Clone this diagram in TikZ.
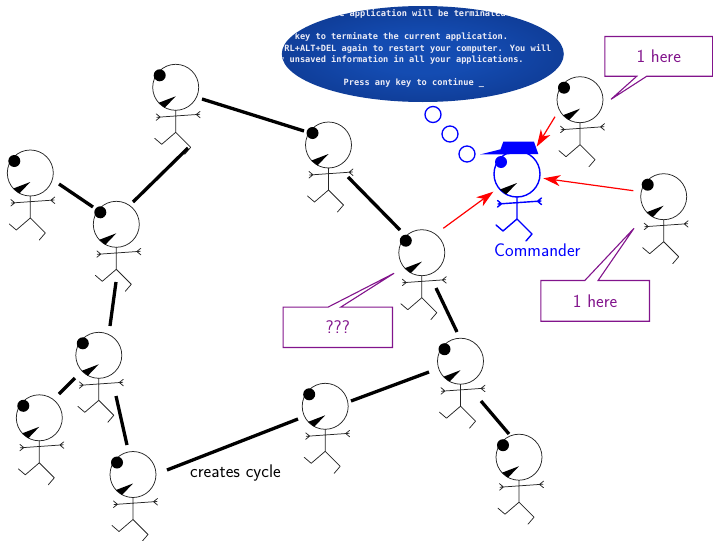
\documentclass[tikz,border=0pt]{standalone}
\usepackage{fontspec}
\usetikzlibrary{calc,arrows.meta}

\newfontfamily\bsodfont{DejaVu Sans Mono}

\definecolor{notepurple}{RGB}{130,20,140}
\definecolor{bsodinner}{RGB}{20,76,178}
\definecolor{bsodouter}{RGB}{8,38,112}
\definecolor{bsodtext}{RGB}{236,236,246}

\pgfdeclareradialshading{bsodglow}{\pgfpoint{0bp}{0bp}}{%
  color(0bp)=(bsodinner); color(10bp)=(bsodinner); color(50bp)=(bsodouter)}

% one stick figure, head centred on the origin (units: pt, y pointing down)
% #1 line colour, #2 line width, #3 eye colour
\newcommand\drawstickman[3]{%
  \draw[line width=#2, draw=#1] (0,0) circle[radius=23];
  \fill[#3] (-16,-12) circle[radius=6];
  \fill[black] (0,9) -- (-17,15.5) -- (-11,20.5) -- cycle;
  \draw[line width=#2, draw=#1, line cap=round, line join=round]
    (0,23) -- (0,45)
    (-19,30) -- (24,27)
    (-15.5,29.8) -- (-19.5,26.5) (-15.5,29.8) -- (-19.5,33)
    (20.5,27.2) -- (24.5,24) (20.5,27.2) -- (24.5,30.5)
    (-21,51) -- (-14,57) -- (0,45) -- (15,60) -- (9,67);
}

\tikzset{
  pics/stickman/.style={code={\drawstickman{black!85}{0.75pt}{black}}},
  pics/commander/.style={code={%
    \drawstickman{blue}{1.4pt}{blue}
    \fill[blue] (-37,-19.5) -- (-16.5,-24.7) -- (-13.7,-32.3) -- (17,-32.3)
      -- (21.3,-20) -- cycle;}},
}

\begin{document}
\begin{tikzpicture}[x=1pt,y=-1pt,
  link/.style={line width=3.3pt},
  report/.style={draw=red, line width=1.2pt,
    -{Stealth[length=17pt,width=11pt,inset=5pt]}},
  notebox/.style={inner sep=0pt, text=notepurple,
    font=\sffamily\fontsize{18.3}{22}\selectfont},
  noteline/.style={draw=notepurple, line width=1.1pt, line join=miter},
  bubble/.style={draw=blue, line width=1.3pt, circle, minimum size=16pt, inner sep=0pt},
  bsodline/.style={anchor=base west, inner sep=0pt, text=bsodtext,
    font=\bsodfont\bfseries\fontsize{8.64}{10}\selectfont},
  label/.style={anchor=base west, inner sep=0pt,
    font=\sffamily\fontsize{18.3}{22}\selectfont},
]
\useasboundingbox (0,0) rectangle (713,541);

% the crashed screen the commander is thinking of
\coordinate (screen) at (422.8,54);
\begin{scope}
  \clip (screen) ellipse[x radius=141, y radius=48];
  \shade[shading=bsodglow] (screen) ellipse[x radius=141, y radius=48];
  \node[bsodline] (l1) at (275,16.8) {00010E36. The application will be terminated.};
  \node[bsodline] (l2) at (227,39.4) {*~~Press any key to terminate the current application.};
  \node[bsodline] (l3) at (227,51) {*~~Press CTRL+ALT+DEL again to restart your computer. You will};
  \node[bsodline] (l4) at (242.6,62.6) {lose any unsaved information in all your applications.};
  \node[bsodline] (l5) at (343.5,85) {Press any key to continue \_};
\end{scope}
\node[bubble] (t1) at (433,114.5) {};
\node[bubble] (t2) at (450,134) {};
\node[bubble] (t3) at (467,154) {};

% positions of the figures (head centres)
\coordinate (f1)  at (175.7,87.3);
\coordinate (f2)  at (30.3,173);
\coordinate (f3)  at (116.3,224.3);
\coordinate (f4)  at (328.5,145);
\coordinate (f5)  at (421.8,252.7);
\coordinate (f6)  at (98.8,355.3);
\coordinate (f7)  at (39.3,417.8);
\coordinate (f8)  at (133,474.5);
\coordinate (f9)  at (325.2,406.3);
\coordinate (f10) at (460.5,361.2);
\coordinate (f11) at (519,457.2);
\coordinate (f12) at (580,99.7);
\coordinate (f13) at (663.7,196.7);
\coordinate (cmd) at (517,174);

\foreach \f in {f1,f2,f3,f4,f5,f6,f7,f8,f9,f10,f11,f12,f13}
  \pic at (\f) {stickman};
\pic at (cmd) {commander};
\node[label, text=blue] (cmdname) at (494,256) {Commander};

% tree edges
\draw[link] ($(f1)+(26.3,11.7)$) -- ($(f4)+(-24.5,-14)$);
\draw[link] ($(f1)+(12.3,60.7)$) -- ($(f3)+(16.7,-22.3)$);
\draw[link] ($(f2)+(28.7,11)$) -- ($(f3)+(-23.3,-17.3)$);
\draw[link] ($(f3)+(-0.3,57.7)$) -- ($(f6)+(11.2,-29.3)$);
\draw[link] ($(f6)+(-23.8,22.7)$) -- ($(f7)+(19.7,-23.8)$);
\draw[link] ($(f6)+(17.2,40.7)$) -- ($(f8)+(-6,-29.5)$);
\draw[link] ($(f8)+(34,-4.5)$) -- ($(f9)+(-27.2,12.7)$);
\draw[link] ($(f9)+(25.8,-5.3)$) -- ($(f10)+(-31.5,10.8)$);
\draw[link] ($(f10)+(20.5,39.8)$) -- ($(f11)+(-10,-23.2)$);
\draw[link] ($(f5)+(14.2,35.3)$) -- ($(f10)+(-3.5,-29.2)$);
\draw[link] ($(f4)+(19.5,32)$) -- ($(f5)+(-21.8,-22.7)$);
\node[label] (cycle) at (190,477.7) {creates cycle};

% reports sent to the commander
\draw[report] ($(f5)+(21.5,-24.4)$) -- ($(cmd)+(-23.7,17.7)$);
\draw[report] ($(f12)+(-25,17)$) -- ($(cmd)+(19.7,-27.3)$);
\draw[report] ($(f13)+(-30.4,-6)$) -- ($(cmd)+(26.3,4.3)$);

% speech callouts
\node[notebox, minimum width=107.5pt, minimum height=39.3pt] (n1) at (658.75,56.35) {1 here};
\draw[noteline] (n1.north west) -- (n1.north east) -- (n1.south east)
  -- ($(n1.south west)+(42,0)$) -- ($(f12)+(31,-0.4)$)
  -- ($(n1.south west)+(32,0)$) -- (n1.south west) -- cycle;

\node[notebox, minimum width=108.3pt, minimum height=40.3pt] (n2) at (595.15,300.85) {1 here};
\draw[noteline] (n2.north west) -- ($(n2.north west)+(44,0)$)
  -- ($(f13)+(-29.7,31.6)$) -- ($(n2.north west)+(57.3,0)$)
  -- (n2.north east) -- (n2.south east) -- (n2.south west) -- cycle;

\node[notebox, minimum width=109pt, minimum height=40pt] (n3) at (337.8,327.3) {???};
\draw[noteline] (n3.north west) -- ($(n3.north west)+(45,0)$)
  -- ($(f5)+(-27.8,20.6)$) -- ($(n3.north west)+(57.7,0)$)
  -- (n3.north east) -- (n3.south east) -- (n3.south west) -- cycle;
\end{tikzpicture}
\end{document}
